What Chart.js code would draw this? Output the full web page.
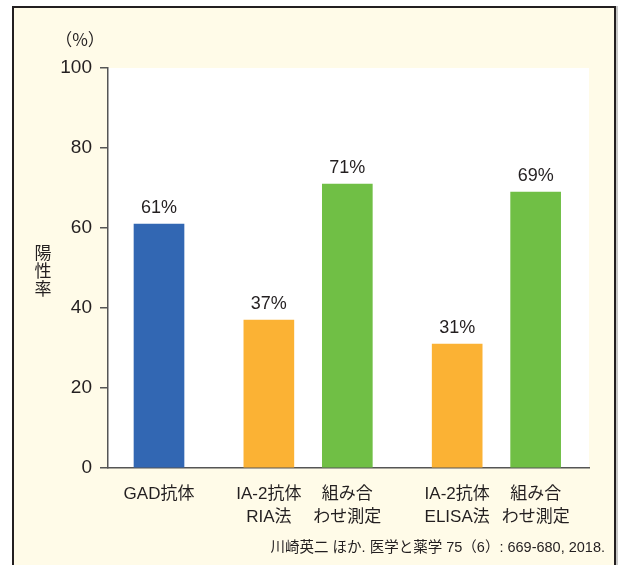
<!DOCTYPE html>
<html lang="ja">
  <head>
    <meta charset="UTF-8" />
    <title>陽性率</title>
    <script src="https://cdn.jsdelivr.net/npm/chart.js"></script>
    <style>
      html, body { margin: 0; padding: 0; background: #fff; }
      #frame {
        position: absolute; left: 12px; top: 6px; width: 600px; height: 600px;
        border: 2px solid #231f20; border-bottom: none; background: #fffbe8;
        box-shadow: 2px 0 0 #c8c8c8;
      }
      #myChart { position: absolute; left: 0; top: 0; }
    </style>
  </head>
  <body>
    <div id="frame"></div>
    <canvas id="myChart" width="619" height="565"></canvas>
    <script>
      // categories (multi-line labels) and where they sit on the x scale
      const labels = [
        ["GAD抗体"],
        ["IA-2抗体", "RIA法"],
        ["組み合", "わせ測定"],
        ["IA-2抗体", "ELISA法"],
        ["組み合", "わせ測定"],
      ];
      const xPos = [1, 2.4, 3.4, 4.8, 5.8];
      const positiveRate = [61, 37, 71, 31, 69];
      const barColors = ["#3267b3", "#fbb234", "#70bf45", "#fbb234", "#70bf45"];
      const yTicks = [0, 20, 40, 60, 80, 100];

      const yTitle = ["陽", "性", "率"];
      const unitText = "（%）";
      const sourceText = "川崎英二 ほか. 医学と薬学 75（6）: 669-680, 2018.";

      const FONT = "'Liberation Sans', 'Noto Sans CJK JP', sans-serif";
      const INK = "#231f20";

      // white plot area + extra texts
      const decor = {
        id: "decor",
        beforeDraw(chart) {
          const { ctx, chartArea: a } = chart;
          ctx.save();
          ctx.fillStyle = "#fff";
          ctx.fillRect(a.left, a.top, a.right - a.left, a.bottom - a.top);
          ctx.restore();
        },
        afterDatasetsDraw(chart) {
          const ctx = chart.ctx;
          const meta = chart.getDatasetMeta(0);
          ctx.save();
          ctx.fillStyle = INK;
          ctx.font = "18px " + FONT;
          ctx.textAlign = "center";
          ctx.textBaseline = "middle";
          meta.data.forEach((bar, i) => {
            ctx.fillText(positiveRate[i] + "%", bar.x, bar.y - 16);
          });
          ctx.restore();
        },
        afterDraw(chart) {
          const ctx = chart.ctx;
          ctx.save();
          ctx.fillStyle = INK;
          ctx.textAlign = "center";
          ctx.textBaseline = "middle";
          ctx.font = "17px 'Noto Sans CJK JP', sans-serif";
          ctx.fillText(unitText, 80, 40);
          ctx.font = "17px 'Noto Sans CJK JP', sans-serif";
          yTitle.forEach((ch, i) => ctx.fillText(ch, 43, 253 + i * 18));
          ctx.font = "14.5px " + FONT;
          ctx.textAlign = "right";
          ctx.fillText(sourceText, 605, 548);
          ctx.restore();
        },
      };

      new Chart(document.getElementById("myChart"), {
        type: "bar",
        data: {
          datasets: [
            {
              data: xPos.map((x, i) => ({ x: x, y: positiveRate[i] })),
              backgroundColor: barColors,
              barThickness: 50,
            },
          ],
        },
        options: {
          responsive: false,
          devicePixelRatio: 1,
          animation: false,
          layout: { padding: { top: 68, right: 30, left: 0, bottom: 0 } },
          plugins: { legend: { display: false }, tooltip: { enabled: false } },
          scales: {
            x: {
              type: "linear",
              min: 0.35,
              max: 6.48,
              offset: false,
              afterBuildTicks: (s) => {
                s.ticks = xPos.map((v) => ({ value: v }));
              },
              afterFit: (s) => {
                s.height = 97;
              },
              grid: { display: false },
              border: { color: "#555", width: 1.5 },
              ticks: {
                autoSkip: false,
                maxRotation: 0,
                padding: 7,
                color: INK,
                font: { family: FONT, size: 17, lineHeight: 1.35 },
                callback: (v, i) => labels[i],
              },
            },
            y: {
              min: 0,
              max: 100,
              afterBuildTicks: (s) => {
                s.ticks = yTicks.map((v) => ({ value: v }));
              },
              afterFit: (s) => {
                s.width = 108;
              },
              grid: {
                drawOnChartArea: false,
                tickLength: 8,
                color: "#555",
                lineWidth: 1.5,
              },
              border: { color: "#555", width: 1.5 },
              ticks: {
                padding: 8,
                color: INK,
                font: { family: FONT, size: 19 },
              },
            },
          },
        },
        plugins: [decor],
      });
    </script>
  </body>
</html>
